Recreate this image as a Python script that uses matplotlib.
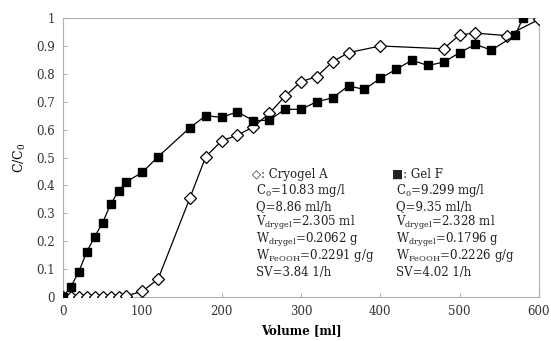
import matplotlib
matplotlib.use('Agg')
import matplotlib.pyplot as plt

plt.rcParams['font.family'] = ['DejaVu Serif', 'DejaVu Sans']
plt.rcParams['mathtext.fontset'] = 'dejavuserif'

# breakthrough data, volume [ml] vs C/C0
volA = [0, 10, 20, 30, 40, 50, 60, 70, 80, 100, 120, 160, 180, 200, 220, 240, 260,
        280, 300, 320, 340, 360, 400, 480, 500, 520, 560, 600]
ccA = [0, 0, 0, 0, 0, 0, 0, 0, 0.005, 0.02, 0.065, 0.355, 0.503, 0.56, 0.58, 0.61, 0.658,
       0.72, 0.772, 0.79, 0.844, 0.876, 0.90, 0.89, 0.94, 0.946, 0.937, 0.995]

volF = [0, 10, 20, 30, 40, 50, 60, 70, 80, 100, 120, 160, 180, 200, 220, 240, 260,
        280, 300, 320, 340, 360, 380, 400, 420, 440, 460, 480, 500, 520, 540, 570, 580]
ccF = [0, 0.037, 0.091, 0.162, 0.216, 0.267, 0.332, 0.38, 0.413, 0.447, 0.503, 0.607,
       0.65, 0.644, 0.664, 0.632, 0.634, 0.673, 0.673, 0.70, 0.714, 0.757, 0.744, 0.784,
       0.816, 0.849, 0.83, 0.842, 0.876, 0.906, 0.885, 0.938, 1.0]

infoA = ['◇: Cryogel A', r'C$_0$=10.83 mg/l', 'Q=8.86 ml/h', r'V$_{\rm drygel}$=2.305 ml',
         r'W$_{\rm drygel}$=0.2062 g', r'W$_{\rm FeOOH}$=0.2291 g/g', 'SV=3.84 1/h']
infoF = ['■: Gel F', r'C$_0$=9.299 mg/l', 'Q=9.35 ml/h', r'V$_{\rm drygel}$=2.328 ml',
         r'W$_{\rm drygel}$=0.1796 g', r'W$_{\rm FeOOH}$=0.2226 g/g', 'SV=4.02 1/h']

fig = plt.figure(figsize=(5.51, 3.41), dpi=100)
ax = fig.add_axes([0.1143, 0.129, 0.8637, 0.818])

ax.plot(volA, ccA, color='black', lw=0.9, marker='D', markersize=5.8,
        markerfacecolor='white', markeredgecolor='black', markeredgewidth=0.9, zorder=3)
ax.plot(volF, ccF, color='black', lw=0.9, marker='s', markersize=5.8,
        markerfacecolor='black', markeredgecolor='black', zorder=3)

ax.set_xlim(0, 600)
ax.set_ylim(0, 1)
ax.set_xticks(range(0, 601, 100))
ax.set_yticks([i / 10 for i in range(11)])
ax.set_yticklabels(['0', '0.1', '0.2', '0.3', '0.4', '0.5', '0.6', '0.7', '0.8', '0.9', '1'])
ax.tick_params(direction='in', length=3, color='#b0b0b0', labelsize=8.5,
               labelcolor='#333333', pad=6)
for s in ax.spines.values():
    s.set_color('#b0b0b0')
    s.set_linewidth(0.8)

ax.set_xlabel('Volume [ml]', fontsize=8.5, fontweight='bold', labelpad=4)
ax.set_ylabel('C/C$_0$', fontsize=9, labelpad=6)

# parameter blocks for each gel
y0 = 0.44
dy = 0.0585
for i, (a, f) in enumerate(zip(infoA, infoF)):
    xa = 0.397 if i == 0 else 0.405
    xf = 0.691 if i == 0 else 0.699
    ax.text(xa, y0 - i * dy, a, transform=ax.transAxes, fontsize=8.5, va='center',
            color='#222222')
    ax.text(xf, y0 - i * dy, f, transform=ax.transAxes, fontsize=8.5, va='center',
            color='#222222')

fig.savefig('out.png', dpi=100)
